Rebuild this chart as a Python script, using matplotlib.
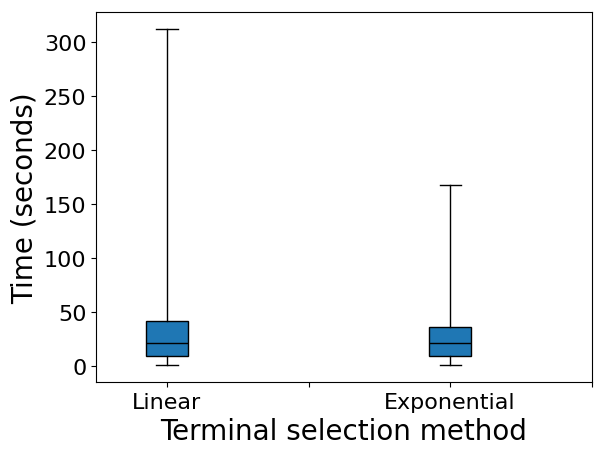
import matplotlib
matplotlib.use('Agg')
import matplotlib.pyplot as plt

methods = ['Linear', 'Exponential']
whislo = [1.0, 1.0]
q1 = [9.2, 9.5]
med = [22.0, 21.3]
q3 = [41.5, 36.8]
whishi = [312.0, 167.5]

stats = []
for i in range(len(methods)):
    stats.append({'whislo': whislo[i], 'q1': q1[i], 'med': med[i],
                  'q3': q3[i], 'whishi': whishi[i], 'fliers': []})

fig, ax = plt.subplots(figsize=(6.05, 4.56), dpi=100)
ax.bxp(stats, positions=[1, 3], widths=0.3, patch_artist=True,
       boxprops=dict(facecolor='#1f77b4', edgecolor='black'),
       medianprops=dict(color='black'))

ax.set_xlim(0.5, 4)
ax.set_xticks([1, 2, 3, 4])
ax.set_xticklabels(['Linear', '', 'Exponential', ''])
ax.tick_params(labelsize=16)
ax.set_xlabel('Terminal selection method', fontsize=20)
ax.set_ylabel('Time (seconds)', fontsize=20)
plt.subplots_adjust(left=0.159, right=0.978, top=0.971, bottom=0.16)
plt.savefig('out.png')
